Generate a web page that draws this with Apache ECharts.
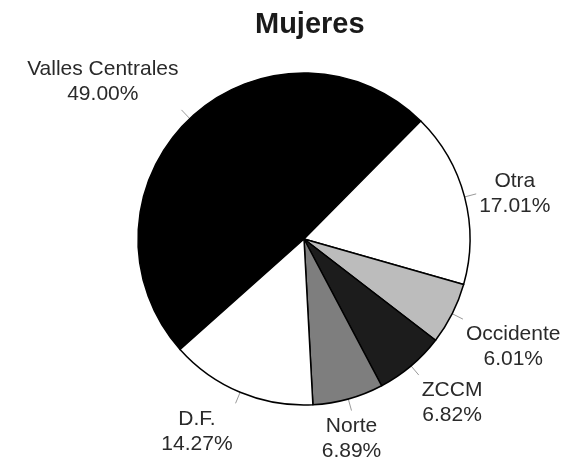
<!DOCTYPE html>
<html>
<head>
<meta charset="utf-8">
<script src="https://cdn.jsdelivr.net/npm/echarts@6/dist/echarts.min.js"></script>
<style>html,body{margin:0;padding:0;background:#fff}#c{width:569px;height:460px}</style>
</head>
<body>
<div id="c"></div>
<script>
var titleText = 'Mujeres';
var categories = ['Valles Centrales', 'Otra', 'Occidente', 'ZCCM', 'Norte', 'D.F.'];
var values = [49.00, 17.01, 6.01, 6.82, 6.89, 14.27];
var sliceColors = ['#000000', '#ffffff', '#bcbcbc', '#1c1c1c', '#7e7e7e', '#ffffff'];

var chart = echarts.init(document.getElementById('c'), null, {renderer: 'canvas'});

function ramp(v) {
  var a = Math.abs(v);
  var t = Math.max(0, Math.min(1, (a - 0.27) / 0.1));
  return v < 0 ? -t : t;
}

chart.setOption({
  backgroundColor: '#ffffff',
  animation: false,
  title: {
    text: titleText,
    left: 250,
    top: 5,
    textStyle: {fontFamily: 'Liberation Sans', fontWeight: 'bold', fontSize: 29, color: '#1a1a1a'}
  },
  series: [{
    type: 'pie',
    center: [304, 239],
    radius: 166,
    startAngle: 221.7,
    clockwise: true,
    avoidLabelOverlap: false,
    data: categories.map(function (n, i) {
      return {name: n, value: values[i], itemStyle: {color: sliceColors[i]}};
    }),
    itemStyle: {borderColor: '#000', borderWidth: 1.5},
    emphasis: {disabled: true},
    label: {
      show: true,
      position: 'outside',
      formatter: function (p) { return '{a|' + p.name + '}\n{a|' + p.value.toFixed(2) + '%}'; },
      rich: {a: {align: 'center', fontFamily: 'Liberation Sans', fontSize: 21, lineHeight: 25, color: '#2a2a2a'}},
      fontFamily: 'Liberation Sans', fontSize: 21, lineHeight: 25, color: '#2a2a2a'
    },
    labelLine: {show: true, length: 12, length2: 0, lineStyle: {color: '#9a9a9a', width: 1}},
    labelLayout: function (params) {
      var pts = params.labelLinePoints;
      if (!pts) return {};
      var p0 = pts[0], p1 = pts[1];
      var dx = p1[0] - p0[0], dy = p1[1] - p0[1];
      var L = Math.sqrt(dx * dx + dy * dy) || 1;
      dx /= L; dy /= L;
      var w = params.labelRect.width / 2, h = params.labelRect.height / 2;
      var g = 3;
      return {
        x: p1[0] + ramp(dx) * (w + g),
        y: p1[1] + ramp(dy) * (h + g),
        align: 'center',
        verticalAlign: 'middle',
        labelLinePoints: pts
      };
    }
  }]
});
</script>
</body>
</html>
